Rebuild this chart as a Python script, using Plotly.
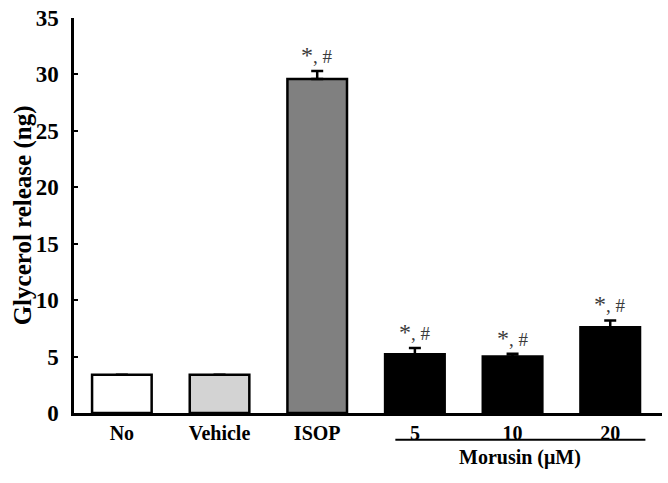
import plotly.graph_objects as go

categories = ["No", "Vehicle", "ISOP", "5", "10", "20"]
values = [3.4, 3.4, 29.6, 5.2, 5.0, 7.6]
errors = [0.0, 0.0, 0.7, 0.55, 0.25, 0.6]
colors = ["#ffffff", "#d3d3d3", "#808080", "#000000", "#000000", "#000000"]
sig_labels = ["", "", "*, #", "*, #", "*, #", "*, #"]
group_label = "Morusin (μM)"
y_ticks = [0, 5, 10, 15, 20, 25, 30, 35]

xs = list(range(len(categories)))
fig = go.Figure()
fig.add_trace(go.Bar(
    x=xs, y=values, width=0.61,
    marker=dict(color=colors, line=dict(color="black", width=2.5)),
    error_y=dict(type="data", array=errors, arrayminus=[0] * len(errors),
                 symmetric=False, color="black", thickness=2.5, width=6,
                 visible=True),
    showlegend=False,
))

font_serif = "Liberation Serif, Times New Roman, serif"
for x, v, e, s in zip(xs, values, errors, sig_labels):
    if s:
        fig.add_annotation(x=x, y=v + e, xref="x", yref="y",
                           text="<span style='font-size:24px'>*</span>, #",
                           showarrow=False, yanchor="bottom", yshift=1,
                           font=dict(family=font_serif, size=19, color="#3a3a3a"))

fig.add_shape(type="line", xref="x", yref="paper", x0=2.8, x1=5.36,
              y0=-0.068, y1=-0.068, line=dict(color="black", width=2))
fig.add_annotation(x=(2.8 + 5.36) / 2, y=-0.113, xref="x", yref="paper",
                   text="<b>" + group_label + "</b>", showarrow=False,
                   yanchor="middle",
                   font=dict(family=font_serif, size=20, color="black"))
fig.add_annotation(x=-0.087, y=0.5, xref="paper", yref="paper",
                   text="<b>Glycerol release (ng)</b>", showarrow=False,
                   textangle=-90, xanchor="center", yanchor="middle",
                   font=dict(family=font_serif, size=25, color="black"))

fig.update_layout(
    width=668, height=483,
    margin=dict(l=74, r=6, t=16, b=70),
    plot_bgcolor="white", paper_bgcolor="white",
    font=dict(family=font_serif, color="black"),
    xaxis=dict(range=[-0.49, 5.53], tickmode="array", tickvals=xs,
               ticktext=["<b>" + c + "</b>" for c in categories],
               showline=True, linecolor="black", linewidth=2.5,
               ticks="", showgrid=False, zeroline=False,
               tickfont=dict(family=font_serif, size=20, color="black")),
    yaxis=dict(range=[0, 35], tickmode="array", tickvals=y_ticks,
               ticktext=["<b>%d</b>" % t for t in y_ticks],
               showline=True, linecolor="black", linewidth=2.5,
               ticks="inside", ticklen=4, tickwidth=2, tickcolor="black",
               ticklabelstandoff=8, ticklabeloverflow="allow",
               showgrid=False, zeroline=False,
               tickfont=dict(family=font_serif, size=23, color="black")),
)

fig.write_html("out.html", config={"displayModeBar": False},
               post_script="document.body.style.margin='0';document.body.style.padding='0';")
